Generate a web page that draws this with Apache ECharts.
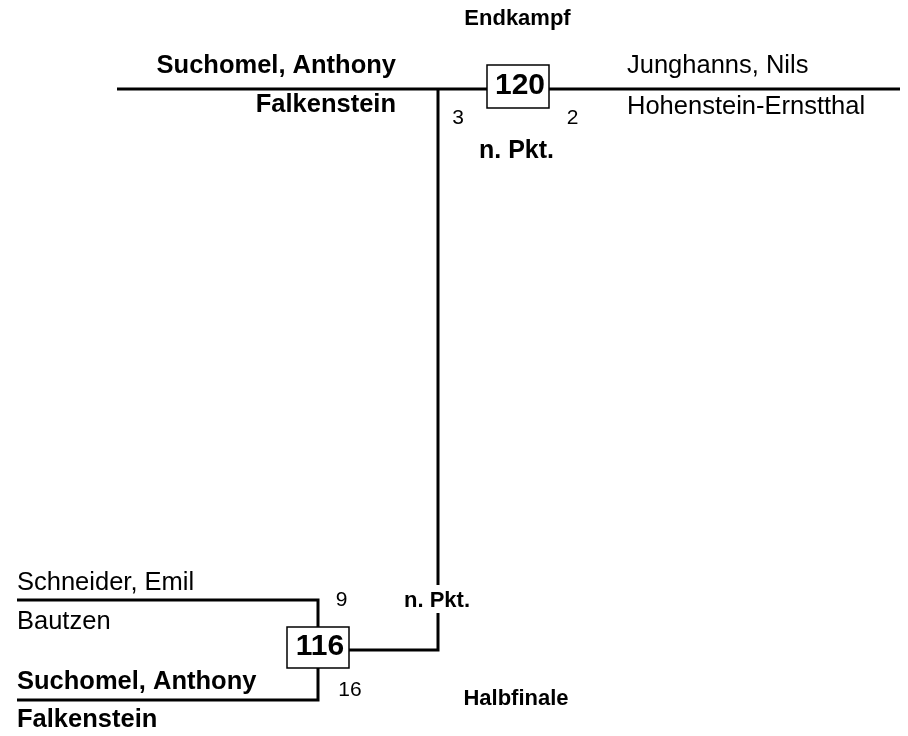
<!DOCTYPE html>
<html>
<head>
<meta charset="utf-8">
<script src="https://cdn.jsdelivr.net/npm/echarts@6/dist/echarts.min.js"></script>
<style>
html, body { margin: 0; padding: 0; background: #fff; }
#main { width: 908px; height: 736px; }
</style>
</head>
<body>
<div id="main"></div>
<script>
// bracket data: index 0 = Halbfinale, index 1 = Endkampf
var rounds = ['Halbfinale', 'Endkampf'];
var matchNo = [116, 120];
var nameA = ['Schneider, Emil', 'Suchomel, Anthony'];
var clubA = ['Bautzen', 'Falkenstein'];
var scoreA = [9, 3];
var nameB = ['Suchomel, Anthony', 'Junghanns, Nils'];
var clubB = ['Falkenstein', 'Hohenstein-Ernstthal'];
var scoreB = [16, 2];
var decision = ['n. Pkt.', 'n. Pkt.'];

var FONT = "'Liberation Sans', Arial, Helvetica, sans-serif";
var chart = echarts.init(document.getElementById('main'));

// layout in axis units (1 unit = 1 px of the page)
var semi = { left: 17, stem: 318, yA: 600, yB: 700, box: [287, 627, 349, 668] };
var fin = { left: 117, right: 900, y: 89, stem: 438, box: [487, 65, 549, 108] };

function won(i, a) {
	return a ? scoreA[i] > scoreB[i] : scoreB[i] > scoreA[i];
}

var paths = [
	[[semi.left, semi.yA], [semi.stem, semi.yA], [semi.stem, semi.box[1]]],
	[[semi.left, semi.yB], [semi.stem, semi.yB], [semi.stem, semi.box[3]]],
	[[semi.box[2], 650], [fin.stem, 650], [fin.stem, 613]],
	[[fin.stem, 585], [fin.stem, fin.y]],
	[[fin.left, fin.y], [fin.right, fin.y]]
];

var labels = [];
function addLabel(x, y, text, size, isBold, align) {
	labels.push({ value: [x, y], text: String(text), size: size, bold: isBold, align: align });
}

// Halbfinale
addLabel(17, 583, nameA[0], 25.5, won(0, true), 'left');
addLabel(17, 621.5, clubA[0], 25.5, won(0, true), 'left');
addLabel(17, 682, nameB[0], 25.5, won(0, false), 'left');
addLabel(17, 720, clubB[0], 25.5, won(0, false), 'left');
addLabel(341.5, 600.5, scoreA[0], 21, false, 'center');
addLabel(350, 690, scoreB[0], 21, false, 'center');
addLabel(437, 600.5, decision[0], 22, true, 'center');
addLabel(516, 699, rounds[0], 22, true, 'center');

// Endkampf
addLabel(396, 65.5, nameA[1], 25.5, won(1, true), 'right');
addLabel(396, 105, clubA[1], 25.5, won(1, true), 'right');
addLabel(627, 65.5, nameB[1], 25.5, won(1, false), 'left');
addLabel(627, 106.5, clubB[1], 25.5, won(1, false), 'left');
addLabel(458, 118, scoreA[1], 21, false, 'center');
addLabel(572.5, 118, scoreB[1], 21, false, 'center');
addLabel(516.5, 151, decision[1], 25, true, 'center');
addLabel(517.5, 18.5, rounds[1], 22, true, 'center');

var boxes = [
	semi.box.concat([matchNo[0]]),
	fin.box.concat([matchNo[1]])
];

var series = paths.map(function (p) {
	return {
		type: 'line',
		data: p,
		symbol: 'none',
		silent: true,
		animation: false,
		z: 2,
		lineStyle: { color: '#000', width: 3, cap: 'butt', join: 'miter' }
	};
});

series.push({
	type: 'custom',
	data: boxes,
	encode: { x: [0, 2], y: [1, 3] },
	clip: false,
	z: 5,
	animation: false,
	renderItem: function (params, api) {
		var p0 = api.coord([api.value(0), api.value(1)]);
		var p1 = api.coord([api.value(2), api.value(3)]);
		return {
			type: 'group',
			children: [{
				type: 'rect',
				shape: { x: p0[0], y: p0[1], width: p1[0] - p0[0], height: p1[1] - p0[1] },
				style: { fill: '#fff', stroke: '#000', lineWidth: 1.5 }
			}, {
				type: 'text',
				x: (p0[0] + p1[0]) / 2 + 2,
				y: (p0[1] + p1[1]) / 2 - 1,
				style: {
					text: String(api.value(4)),
					font: 'bold 30px ' + FONT,
					fill: '#000',
					align: 'center',
					verticalAlign: 'middle'
				}
			}]
		};
	}
});

series.push({
	type: 'custom',
	data: labels.map(function (l) { return l.value; }),
	clip: false,
	z: 6,
	animation: false,
	renderItem: function (params, api) {
		var l = labels[params.dataIndex];
		var p = api.coord([api.value(0), api.value(1)]);
		return {
			type: 'text',
			x: p[0],
			y: p[1],
			style: {
				text: l.text,
				font: (l.bold ? 'bold ' : '') + l.size + 'px ' + FONT,
				fill: '#000',
				align: l.align,
				verticalAlign: 'middle'
			}
		};
	}
});

chart.setOption({
	backgroundColor: '#fff',
	animation: false,
	grid: { left: 0, right: 0, top: 0, bottom: 0 },
	xAxis: { type: 'value', min: 0, max: 908, show: false },
	yAxis: { type: 'value', min: 0, max: 736, inverse: true, show: false },
	series: series
});
</script>
</body>
</html>
